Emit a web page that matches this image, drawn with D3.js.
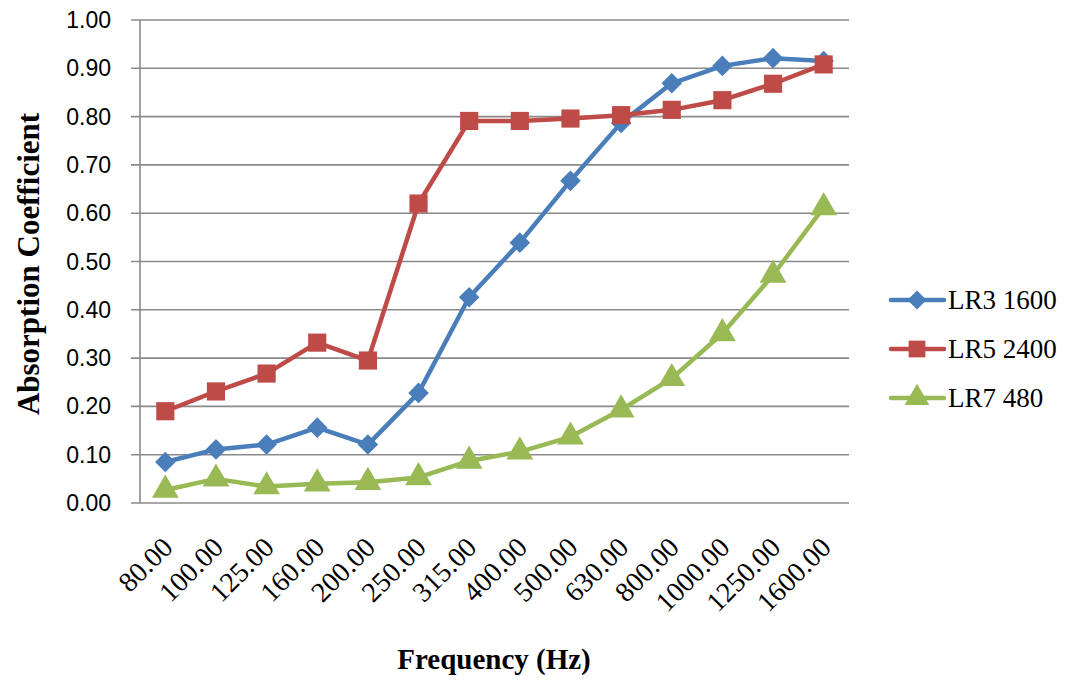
<!DOCTYPE html>
<html><head><meta charset="utf-8">
<script src="https://cdn.jsdelivr.net/npm/d3@7"></script>
<style>body{margin:0;background:#fff}</style>
</head><body>
<svg id="c" width="1072" height="680"></svg>
<script>
const categories = ["80.00","100.00","125.00","160.00","200.00","250.00","315.00","400.00","500.00","630.00","800.00","1000.00","1250.00","1600.00"];
const lr3 = [0.085,0.111,0.121,0.156,0.121,0.228,0.426,0.539,0.667,0.787,0.869,0.905,0.921,0.915];
const lr5 = [0.190,0.231,0.268,0.332,0.295,0.620,0.791,0.791,0.796,0.803,0.814,0.834,0.868,0.908];
const lr7 = [0.027,0.050,0.034,0.040,0.043,0.053,0.087,0.106,0.137,0.193,0.258,0.351,0.472,0.612];
const yTicks = [0,0.1,0.2,0.3,0.4,0.5,0.6,0.7,0.8,0.9,1.0];
const seriesNames = ["LR3 1600","LR5 2400","LR7 480"];
const colors = ["#4A7EBB","#BE4B48","#98B954"];
const symbols = [d3.symbolDiamond2, d3.symbolSquare, d3.symbolTriangle];

const svg = d3.select("#c");
const L = 140, R = 849, T = 20, B = 503;
const x = d3.scaleBand().domain(categories).range([L, R]);
const y = d3.scaleLinear().domain([0,1]).range([B, T]);

// gridlines
svg.append("g").selectAll("line").data(yTicks).join("line")
  .attr("x1", L-9).attr("x2", R).attr("y1", d=>y(d)).attr("y2", d=>y(d))
  .attr("stroke","#8a8a8a").attr("stroke-width",1.6);
// y axis line
svg.append("line").attr("x1",L).attr("x2",L).attr("y1",T).attr("y2",B)
  .attr("stroke","#8a8a8a").attr("stroke-width",1.6);
// y labels
svg.append("g").selectAll("text").data(yTicks).join("text")
  .attr("x",111).attr("y",d=>y(d)+8).attr("text-anchor","end")
  .attr("font-family","Liberation Sans, Arial").attr("font-size",23)
  .attr("fill","#000").text(d=>d3.format(".2f")(d));
// x labels
svg.append("g").selectAll("text").data(categories).join("text")
  .attr("text-anchor","end")
  .attr("transform", d=>`translate(${x(d)+x.bandwidth()/2+9},${B+46}) rotate(-45)`)
  .attr("font-family","Liberation Serif, Times New Roman").attr("font-size",28)
  .attr("fill","#000").text(d=>d);

const allSeries = [lr3, lr5, lr7];
const line = d3.line().x((d,i)=>x(categories[i])+x.bandwidth()/2).y(d=>y(d));
const sizes = [270, 330, 310];
allSeries.forEach((s, k) => {
  svg.append("path").datum(s).attr("d", line).attr("fill","none")
    .attr("stroke", colors[k]).attr("stroke-width", 4.5).attr("stroke-linejoin","round");
  svg.append("g").selectAll("path").data(s).join("path")
    .attr("d", d3.symbol().type(symbols[k]).size(sizes[k]))
    .attr("transform",(d,i)=>`translate(${x(categories[i])+x.bandwidth()/2},${y(d)})`)
    .attr("fill", colors[k]);
});

// legend
const lg = svg.append("g");
seriesNames.forEach((n,k)=>{
  const ly = 300 + k*49;
  lg.append("line").attr("x1",891).attr("x2",944).attr("y1",ly).attr("y2",ly)
    .attr("stroke",colors[k]).attr("stroke-width",4.5).attr("stroke-linecap","round");
  lg.append("path").attr("d", d3.symbol().type(symbols[k]).size(sizes[k]*0.85))
    .attr("transform",`translate(917,${ly})`).attr("fill",colors[k]);
  lg.append("text").attr("x",948).attr("y",ly+9)
    .attr("font-family","Liberation Serif, Times New Roman").attr("font-size",27)
    .attr("fill","#000").text(n);
});

// titles
svg.append("text").attr("x",494).attr("y",669).attr("text-anchor","middle")
  .attr("font-family","Liberation Serif, Times New Roman").attr("font-weight","bold")
  .attr("font-size",29).text("Frequency (Hz)");
svg.append("text").attr("transform","translate(39,264) rotate(-90)").attr("text-anchor","middle")
  .attr("font-family","Liberation Serif, Times New Roman").attr("font-weight","bold")
  .attr("font-size",31).text("Absorption Coefficient");
</script>
</body></html>
